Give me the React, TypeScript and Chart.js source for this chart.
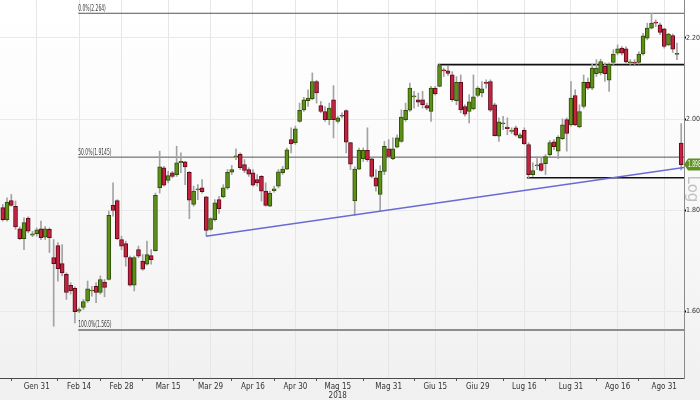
import React, { useEffect, useRef } from 'react';
import { Chart, registerables } from 'chart.js';
Chart.register(...registerables);

// ---- series (daily candles, Jan 19 2018 .. Sep 6 2018) ----
const opens = [
  1.805, 1.780, 1.820, 1.808, 1.761, 1.741, 1.783, 1.748, 1.751, 1.761,
  1.744, 1.760, 1.703, 1.727, 1.691, 1.670, 1.649, 1.643, 1.600, 1.607,
  1.619, 1.638, 1.647, 1.635, 1.655, 1.660, 1.810, 1.820, 1.739, 1.731,
  1.703, 1.649, 1.719, 1.696, 1.690, 1.707, 1.717, 1.847, 1.891, 1.863,
  1.880, 1.876, 1.902, 1.904, 1.881, 1.812, 1.843, 1.847, 1.828, 1.760,
  1.780, 1.822, 1.828, 1.847, 1.881, 1.915, 1.921, 1.898, 1.887, 1.880,
  1.865, 1.872, 1.840, 1.808, 1.841, 1.851, 1.880, 1.888, 1.954, 1.947,
  1.996, 2.023, 2.045, 2.049, 2.091, 2.033, 2.019, 2.000, 2.047, 1.996,
  2.008, 2.021, 1.947, 1.819, 1.888, 1.911, 1.930, 1.911, 1.869, 1.833,
  1.883, 1.933, 1.911, 1.937, 1.950, 2.000, 2.022, 2.054, 2.047, 2.047,
  2.033, 2.019, 2.075, 2.079, 2.118, 2.117, 2.107, 2.045, 2.089, 2.031,
  2.019, 2.025, 2.057, 2.063, 2.089, 2.091, 2.035, 1.962, 1.990, 1.983,
  1.973, 1.981, 1.958, 1.975, 1.943, 1.876, 1.895, 1.900, 1.900, 1.920,
  1.949, 1.928, 1.956, 2.000, 1.988, 2.057, 1.983, 2.031, 2.089, 2.075,
  2.110, 2.112, 2.128, 2.094, 2.138, 2.161, 2.174, 2.172, 2.137, 2.139,
  2.138, 2.159, 2.199, 2.225, 2.241, 2.234, 2.223, 2.182, 2.206, 2.158,
  1.946,
];
const highs = [
  1.812, 1.826, 1.833, 1.819, 1.765, 1.784, 1.786, 1.756, 1.763, 1.777,
  1.766, 1.763, 1.739, 1.733, 1.729, 1.673, 1.654, 1.646, 1.606, 1.622,
  1.657, 1.647, 1.654, 1.667, 1.660, 1.798, 1.858, 1.822, 1.746, 1.736,
  1.706, 1.706, 1.726, 1.709, 1.736, 1.719, 1.836, 1.928, 1.894, 1.883,
  1.883, 1.939, 1.924, 1.905, 1.883, 1.851, 1.854, 1.865, 1.829, 1.784,
  1.822, 1.829, 1.854, 1.887, 1.896, 1.933, 1.924, 1.909, 1.891, 1.887,
  1.876, 1.874, 1.858, 1.840, 1.851, 1.887, 1.894, 1.935, 1.981, 1.985,
  2.039, 2.053, 2.071, 2.112, 2.094, 2.043, 2.031, 2.039, 2.081, 2.008,
  2.016, 2.023, 1.948, 1.893, 1.935, 1.935, 1.981, 1.913, 1.887, 1.896,
  1.950, 1.954, 1.958, 1.965, 2.023, 2.039, 2.087, 2.067, 2.063, 2.067,
  2.039, 2.079, 2.079, 2.1325, 2.124, 2.128, 2.115, 2.103, 2.107, 2.035,
  2.059, 2.107, 2.079, 2.091, 2.095, 2.095, 2.039, 2.004, 2.008, 2.004,
  1.981, 1.985, 1.969, 1.981, 1.947, 1.902, 1.916, 1.913, 1.920, 1.952,
  1.954, 1.963, 2.002, 2.004, 2.091, 2.071, 2.035, 2.107, 2.099, 2.133,
  2.145, 2.146, 2.137, 2.137, 2.170, 2.182, 2.178, 2.177, 2.145, 2.145,
  2.165, 2.212, 2.238, 2.264, 2.247, 2.238, 2.225, 2.212, 2.210, 2.187,
  1.991,
];
const lows = [
  1.777, 1.777, 1.808, 1.760, 1.739, 1.719, 1.753, 1.745, 1.746, 1.739,
  1.739, 1.713, 1.572, 1.657, 1.667, 1.622, 1.632, 1.578, 1.597, 1.603,
  1.616, 1.628, 1.616, 1.632, 1.627, 1.659, 1.787, 1.739, 1.719, 1.686,
  1.647, 1.638, 1.703, 1.678, 1.688, 1.690, 1.716, 1.836, 1.851, 1.858,
  1.869, 1.872, 1.880, 1.854, 1.782, 1.808, 1.822, 1.836, 1.747, 1.758,
  1.777, 1.793, 1.826, 1.844, 1.876, 1.909, 1.887, 1.880, 1.872, 1.851,
  1.851, 1.819, 1.808, 1.807, 1.838, 1.847, 1.876, 1.887, 1.924, 1.943,
  1.994, 2.019, 2.031, 2.047, 2.039, 2.016, 1.996, 1.988, 1.958, 1.992,
  2.004, 1.924, 1.887, 1.789, 1.887, 1.905, 1.905, 1.869, 1.840, 1.798,
  1.876, 1.913, 1.909, 1.935, 1.948, 1.996, 2.019, 2.027, 2.031, 2.027,
  2.023, 1.996, 2.058, 2.078, 2.103, 2.106, 2.043, 2.035, 2.016, 2.008,
  1.992, 2.023, 2.054, 2.054, 2.075, 2.019, 1.962, 1.950, 1.977, 1.965,
  1.968, 1.962, 1.956, 1.943, 1.869, 1.872, 1.887, 1.883, 1.876, 1.916,
  1.931, 1.911, 1.954, 1.928, 1.985, 1.986, 1.981, 2.027, 2.071, 2.071,
  2.103, 2.107, 2.091, 2.067, 2.133, 2.157, 2.157, 2.137, 2.133, 2.133,
  2.134, 2.156, 2.195, 2.223, 2.229, 2.208, 2.174, 2.180, 2.163, 2.145,
  1.886,
];
const closes = [
  1.780, 1.817, 1.810, 1.765, 1.741, 1.774, 1.756, 1.751, 1.759, 1.743,
  1.761, 1.743, 1.691, 1.681, 1.673, 1.635, 1.638, 1.599, 1.603, 1.618,
  1.642, 1.639, 1.635, 1.660, 1.645, 1.789, 1.799, 1.741, 1.726, 1.704,
  1.649, 1.703, 1.706, 1.680, 1.709, 1.699, 1.831, 1.893, 1.853, 1.874,
  1.872, 1.902, 1.905, 1.893, 1.821, 1.840, 1.844, 1.839, 1.758, 1.782,
  1.815, 1.803, 1.847, 1.881, 1.887, 1.917, 1.891, 1.885, 1.877, 1.853,
  1.858, 1.840, 1.810, 1.836, 1.845, 1.882, 1.888, 1.931, 1.944, 1.979,
  2.022, 2.047, 2.051, 2.091, 2.063, 2.019, 2.000, 2.027, 2.000, 2.004,
  2.010, 1.948, 1.899, 1.888, 1.930, 1.930, 1.909, 1.872, 1.851, 1.883,
  1.939, 1.916, 1.933, 1.958, 2.006, 2.022, 2.075, 2.055, 2.041, 2.035,
  2.027, 2.075, 2.061, 2.130, 2.117, 2.111, 2.047, 2.089, 2.023, 2.013,
  2.042, 2.054, 2.075, 2.073, 2.086, 2.022, 1.963, 1.995, 1.991, 1.979,
  1.974, 1.964, 1.965, 1.944, 1.876, 1.885, 1.896, 1.885, 1.916, 1.947,
  1.938, 1.959, 1.988, 1.968, 2.051, 1.988, 2.019, 2.089, 2.075, 2.124,
  2.124, 2.140, 2.110, 2.133, 2.159, 2.172, 2.161, 2.139, 2.139, 2.136,
  2.159, 2.205, 2.225, 2.238, 2.238, 2.214, 2.178, 2.210, 2.171, 2.160,
  1.898,
];

// ---- categories: trading days (Borsa Italiana) ----
const firstDay = '2018-01-19';
const holidays = ['2018-03-30', '2018-04-02', '2018-05-01', '2018-08-15'];
function tradingDays(start: string, count: number): string[] {
  const out: string[] = [];
  const d = new Date(start + 'T00:00:00Z');
  while (out.length < count) {
    const s = d.toISOString().slice(0, 10);
    const wd = d.getUTCDay();
    if (wd !== 0 && wd !== 6 && holidays.indexOf(s) < 0) out.push(s);
    d.setUTCDate(d.getUTCDate() + 1);
  }
  return out;
}
const dates = tradingDays(firstDay, opens.length);

// ---- axis ticks ----
const majorTickDates = ['2018-01-31', '2018-02-14', '2018-02-28', '2018-03-15', '2018-03-29', '2018-04-16', '2018-04-30', '2018-05-15', '2018-05-31', '2018-06-15', '2018-06-29', '2018-07-16', '2018-07-31', '2018-08-16', '2018-08-31'];
const majorTickLabels = ['Gen 31', 'Feb 14', 'Feb 28', 'Mar 15', 'Mar 29', 'Apr 16', 'Apr 30', 'Mag 15', 'Mag 31', 'Giu 15', 'Giu 29', 'Lug 16', 'Lug 31', 'Ago 16', 'Ago 31'];
const yearLabel = { date: '2018-05-15', text: '2018' };
const minorTickDates = ['2018-01-23', '2018-02-07', '2018-02-21', '2018-03-07', '2018-03-23', '2018-04-09', '2018-04-23', '2018-05-08', '2018-05-23', '2018-06-08', '2018-06-22', '2018-07-09', '2018-07-23', '2018-08-08', '2018-08-23'];
const yTicks = [1.6, 1.8, 2.0, 2.2];
const xRange = [-0.66, 160.66];
const yRange = [1.4818, 2.2993];

// ---- studies ----
const fibLevels = [2.264, 1.9145, 1.565];
const fibLabels = ['0.0%(2.264)', '50.0%(1.9145)', '100.0%(1.565)'];
const fibStart = 17.8;
const supportLevels = [2.1325, 1.869];
const supportStarts = [102.6, 123.6];
const trendPoints = [{ x: 47.9, y: 1.746 }, { x: 160.66, y: 1.8913 }];
const lastPriceText = '1.898';

const FONT = "'Liberation Sans Narrow', 'DejaVu Sans Condensed', 'Roboto', sans-serif";

export default function App() {
  const ref = useRef<HTMLCanvasElement>(null);
  useEffect(() => {
    const canvas = ref.current as HTMLCanvasElement;
    const idx = dates.map((_, i) => i);
    const up = (i: number) => closes[i] >= opens[i];
    const majorIdx = majorTickDates.map((d) => dates.indexOf(d));
    const minorIdx = minorTickDates.map((d) => dates.indexOf(d));
    const yearIdx = dates.indexOf(yearLabel.date);
    const allTicks = [...majorIdx, ...minorIdx].sort((a, b) => a - b);
    const isMajor = (v: number) => majorIdx.indexOf(v) >= 0;

    const lineDatasets: any[] = [];
    fibLevels.forEach((lv, k) => {
      lineDatasets.push({
        type: 'line',
        data: [{ x: fibStart, y: lv }, { x: xRange[1], y: lv }],
        borderColor: k === 2 ? '#8d8d8d' : '#555555',
        borderWidth: k === 2 ? 2 : 1,
        pointRadius: 0,
        order: 5,
      });
    });
    supportLevels.forEach((lv, k) => {
      lineDatasets.push({
        type: 'line',
        data: [{ x: supportStarts[k], y: lv }, { x: xRange[1], y: lv }],
        borderColor: '#111111',
        borderWidth: 1.6,
        pointRadius: 0,
        order: 4,
      });
    });
    lineDatasets.push({
      type: 'line',
      data: trendPoints,
      borderColor: '#6a6ad4',
      borderWidth: 1.5,
      pointRadius: 0,
      order: 0,
    });

    const overlay = {
      id: 'overlay',
      afterDatasetsDraw(chart: any) {
        const { ctx, scales } = chart;
        const xs = scales.x;
        const ys = scales.y;
        ctx.save();
        // fib labels
        ctx.fillStyle = '#3a3a3a';
        ctx.font = `9px 'DejaVu Sans Condensed', sans-serif`;
        ctx.textBaseline = 'bottom';
        ctx.textAlign = 'left';
        fibLevels.forEach((lv, k) => {
          const px = xs.getPixelForValue(fibStart);
          const py = ys.getPixelForValue(lv);
          ctx.save();
          ctx.translate(px, py - (k === 2 ? 1 : 0));
          ctx.scale(0.55, 1);
          ctx.fillText(fibLabels[k], 0, 0);
          ctx.restore();
        });
        // last price tag
        const last = closes[closes.length - 1];
        const ty = ys.getPixelForValue(last);
        const ax = chart.chartArea.right;
        ctx.fillStyle = '#5f9120';
        ctx.beginPath();
        ctx.moveTo(ax, ty);
        ctx.lineTo(ax + 4, ty - 6);
        ctx.lineTo(700, ty - 6);
        ctx.lineTo(700, ty + 6);
        ctx.lineTo(ax + 4, ty + 6);
        ctx.closePath();
        ctx.fill();
        ctx.fillStyle = '#ffffff';
        ctx.font = `8px 'DejaVu Sans Condensed', sans-serif`;
        ctx.textBaseline = 'middle';
        ctx.save();
        ctx.translate(ax + 4, ty + 0.5);
        ctx.scale(0.62, 1);
        ctx.fillText(lastPriceText, 0, 0);
        ctx.restore();
        // Log label
        ctx.fillStyle = '#c2c2c2';
        ctx.font = `15px 'DejaVu Sans', sans-serif`;
        ctx.textAlign = 'center';
        ctx.textBaseline = 'middle';
        ctx.save();
        ctx.translate(692, 189);
        ctx.rotate(Math.PI / 2);
        ctx.fillText('Log', 0, 0);
        ctx.restore();
        ctx.restore();
      },
    };

    const chart = new Chart(canvas, {
      type: 'bar',
      data: {
        datasets: [
          {
            type: 'bar',
            data: idx.map((i) => ({ x: i, y: [lows[i], highs[i]] })),
            backgroundColor: '#a3a3a3',
            borderWidth: 0,
            barThickness: 1,
            grouped: false,
            order: 2,
          } as any,
          {
            type: 'bar',
            data: idx.map((i) => ({ x: i, y: [opens[i], closes[i]] })),
            backgroundColor: idx.map((i) => (up(i) ? '#5e8f19' : '#c42340')),
            borderColor: idx.map((i) => (up(i) ? '#2f4d08' : '#5e0a1a')),
            borderWidth: 1,
            borderSkipped: false,
            barThickness: 4,
            minBarLength: 1,
            grouped: false,
            order: 1,
          } as any,
          ...lineDatasets,
        ],
      },
      options: {
        responsive: false,
        animation: false,
        devicePixelRatio: 1,
        layout: { padding: 0 },
        plugins: { legend: { display: false }, tooltip: { enabled: false } },
        scales: {
          x: {
            type: 'linear',
            min: xRange[0],
            max: xRange[1],
            offset: false,
            afterBuildTicks: (scale: any) => {
              scale.ticks = allTicks.map((v) => ({ value: v }));
            },
            afterFit: (scale: any) => {
              scale.height = 22;
              scale.paddingLeft = 0;
              scale.paddingRight = 0;
            },
            grid: {
              offset: false,
              color: (c: any) => (c.tick && isMajor(c.tick.value) ? '#e6e6e6' : 'rgba(0,0,0,0)'),
              tickColor: (c: any) => (c.tick && isMajor(c.tick.value) ? 'rgba(0,0,0,0)' : '#555555'),
              tickLength: 3,
            },
            border: { color: '#4a4a4a', width: 1 },
            ticks: {
              autoSkip: false,
              maxRotation: 0,
              padding: 1,
              color: '#333333',
              font: { family: FONT, size: 8 },
              callback: (v: any) => {
                const k = majorIdx.indexOf(v);
                if (k < 0) return '';
                return v === yearIdx ? [majorTickLabels[k], yearLabel.text] : majorTickLabels[k];
              },
            },
          } as any,
          y: {
            type: 'logarithmic',
            position: 'right',
            min: yRange[0],
            max: yRange[1],
            afterBuildTicks: (scale: any) => {
              scale.ticks = yTicks.map((v) => ({ value: v }));
            },
            afterFit: (scale: any) => {
              scale.width = 16;
              scale.paddingTop = 0;
              scale.paddingBottom = 0;
            },
            grid: {
              color: '#e9e9e9',
              tickColor: '#000000',
              tickLength: 2,
              tickWidth: 2,
            },
            border: { color: '#8a8a8a', width: 1 },
            ticks: {
              padding: 0,
              color: '#333333',
              font: { family: FONT, size: 7 },
              callback: (v: any) => Number(v).toFixed(2),
            },
          } as any,
        },
      },
      plugins: [overlay],
    } as any);
    return () => chart.destroy();
  }, []);

  return (
    <div
      style={{
        position: 'fixed',
        left: 0,
        top: 0,
        width: 700,
        height: 400,
        background: 'linear-gradient(#ffffff 0%, #fbfbfb 35%, #f0f0f0 100%)',
      }}
    >
      <canvas ref={ref} width={700} height={400} style={{ display: 'block', width: 700, height: 400 }} />
    </div>
  );
}
